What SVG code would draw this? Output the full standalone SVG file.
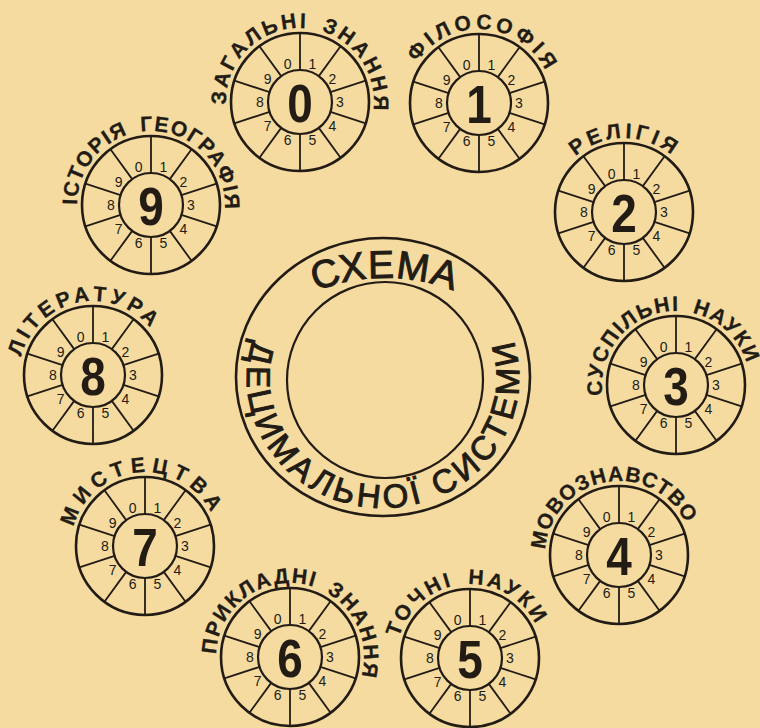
<svg xmlns="http://www.w3.org/2000/svg" width="760" height="728" viewBox="0 0 760 728">
<style>
.o{fill:none;stroke:#221c15;stroke-width:2.6}
.i{fill:none;stroke:#221c15;stroke-width:2.2}
.s{fill:none;stroke:#221c15;stroke-width:1.8}
.d{font-family:"Liberation Sans","DejaVu Sans",sans-serif;font-size:14px;fill:#221c15;text-anchor:middle;dominant-baseline:central}
.n{font-family:"Liberation Sans","DejaVu Sans",sans-serif;font-weight:bold;font-size:54px;fill:#221c15;text-anchor:middle;dominant-baseline:central;transform:scale(0.85,1)}
.l{font-family:"Liberation Sans","DejaVu Sans",sans-serif;font-weight:bold;font-size:21px;fill:#221c15;stroke:#221c15;stroke-width:0.3;word-spacing:5px}
.t{font-family:"Liberation Sans","DejaVu Sans",sans-serif;fill:#221c15;stroke:#221c15;stroke-width:1}
</style>
<defs>
<g id="wheel">
<circle r="69" class="o"/>
<circle r="32" class="i"/>
<path class="s" d="M0 -32V-69M18.81 -25.89L40.56 -55.82M30.43 -9.89L65.62 -21.32M30.43 9.89L65.62 21.32M18.81 25.89L40.56 55.82M0 32V69M-18.81 25.89L-40.56 55.82M-30.43 9.89L-65.62 21.32M-30.43 -9.89L-65.62 -21.32M-18.81 -25.89L-40.56 -55.82"/>
</g>
<path id="p0" d="M-73.95 2.58A74 74 0 1 1 73.59 7.74"/>
<path id="p1" d="M-62.06 -40.30A74 74 0 0 1 66.51 -32.44"/>
<path id="p2" d="M-48.55 -55.85A74 74 0 0 1 47.57 -56.69"/>
<path id="p3" d="M-73.28 10.30A74 74 0 0 1 70.38 -22.87"/>
<path id="p4" d="M-73.82 -5.16A74 74 0 0 1 66.51 -32.44"/>
<path id="p5" d="M-71.13 -20.40A74 74 0 0 1 65.34 -34.74"/>
<path id="p6" d="M-73.95 -2.58A74 74 0 1 1 71.48 19.15"/>
<path id="p7" d="M-71.48 -19.15A74 74 0 0 1 65.93 -33.60"/>
<path id="p8" d="M-71.80 -17.90A74 74 0 0 1 56.69 -47.57"/>
<path id="p9" d="M-74 0A74 74 0 1 1 73.90 3.87"/>
<path id="ptop" d="M295 300.7A190 190 0 0 1 475 300.7"/>
<path id="pbot" d="M252.94 339.99A136 130 0 1 0 513.73 342.17"/>
</defs>
<rect width="760" height="728" fill="#f5dba0"/>

<g id="center">
<ellipse cx="383" cy="377" rx="147" ry="139" class="o"/>
<circle cx="385" cy="380" r="98" class="i"/>
<text class="t" font-size="39"><textPath href="#ptop" startOffset="50%" text-anchor="middle" letter-spacing="1">СХЕМА</textPath></text>
<text class="t" font-size="33"><textPath href="#pbot" textLength="494" lengthAdjust="spacing">ДЕЦИМАЛЬНОЇ СИСТЕМИ</textPath></text>
</g>

<g id="dial-0" transform="translate(300,102)">
<use href="#wheel"/>
<text class="d" x="-12.4" y="-38">0</text><text class="d" x="12.4" y="-38">1</text><text class="d" x="32.4" y="-23.5">2</text><text class="d" x="40" y="0">3</text><text class="d" x="32.4" y="23.5">4</text><text class="d" x="12.4" y="38">5</text><text class="d" x="-12.4" y="38">6</text><text class="d" x="-32.4" y="23.5">7</text><text class="d" x="-40" y="0">8</text><text class="d" x="-32.4" y="-23.5">9</text>
<text class="n" y="2">0</text>
<text class="l" word-spacing="14"><textPath href="#p0" textLength="243" lengthAdjust="spacing">ЗАГАЛЬНІ ЗНАННЯ</textPath></text>
</g>

<g id="dial-1" transform="translate(479,103)">
<use href="#wheel"/>
<text class="d" x="-12.4" y="-38">0</text><text class="d" x="12.4" y="-38">1</text><text class="d" x="32.4" y="-23.5">2</text><text class="d" x="40" y="0">3</text><text class="d" x="32.4" y="23.5">4</text><text class="d" x="12.4" y="38">5</text><text class="d" x="-12.4" y="38">6</text><text class="d" x="-32.4" y="23.5">7</text><text class="d" x="-40" y="0">8</text><text class="d" x="-32.4" y="-23.5">9</text>
<text class="n" y="2">1</text>
<text class="l"><textPath href="#p1" textLength="156" lengthAdjust="spacing">ФІЛОСОФІЯ</textPath></text>
</g>

<g id="dial-2" transform="translate(624,212)">
<use href="#wheel"/>
<text class="d" x="-12.4" y="-38">0</text><text class="d" x="12.4" y="-38">1</text><text class="d" x="32.4" y="-23.5">2</text><text class="d" x="40" y="0">3</text><text class="d" x="32.4" y="23.5">4</text><text class="d" x="12.4" y="38">5</text><text class="d" x="-12.4" y="38">6</text><text class="d" x="-32.4" y="23.5">7</text><text class="d" x="-40" y="0">8</text><text class="d" x="-32.4" y="-23.5">9</text>
<text class="n" y="2">2</text>
<text class="l"><textPath href="#p2" textLength="104" lengthAdjust="spacing">РЕЛІГІЯ</textPath></text>
</g>

<g id="dial-3" transform="translate(676,385)">
<use href="#wheel"/>
<text class="d" x="-12.4" y="-38">0</text><text class="d" x="12.4" y="-38">1</text><text class="d" x="32.4" y="-23.5">2</text><text class="d" x="40" y="0">3</text><text class="d" x="32.4" y="23.5">4</text><text class="d" x="12.4" y="38">5</text><text class="d" x="-12.4" y="38">6</text><text class="d" x="-32.4" y="23.5">7</text><text class="d" x="-40" y="0">8</text><text class="d" x="-32.4" y="-23.5">9</text>
<text class="n" y="2">3</text>
<text class="l"><textPath href="#p3" textLength="220" lengthAdjust="spacing">СУСПІЛЬНІ НАУКИ</textPath></text>
</g>

<g id="dial-4" transform="translate(619,555)">
<use href="#wheel"/>
<text class="d" x="-12.4" y="-38">0</text><text class="d" x="12.4" y="-38">1</text><text class="d" x="32.4" y="-23.5">2</text><text class="d" x="40" y="0">3</text><text class="d" x="32.4" y="23.5">4</text><text class="d" x="12.4" y="38">5</text><text class="d" x="-12.4" y="38">6</text><text class="d" x="-32.4" y="23.5">7</text><text class="d" x="-40" y="0">8</text><text class="d" x="-32.4" y="-23.5">9</text>
<text class="n" y="2">4</text>
<text class="l" font-size="17"><textPath href="#p4" textLength="194" lengthAdjust="spacing">МОВОЗНАВСТВО</textPath></text>
</g>

<g id="dial-5" transform="translate(470,658)">
<use href="#wheel"/>
<text class="d" x="-12.4" y="-38">0</text><text class="d" x="12.4" y="-38">1</text><text class="d" x="32.4" y="-23.5">2</text><text class="d" x="40" y="0">3</text><text class="d" x="32.4" y="23.5">4</text><text class="d" x="12.4" y="38">5</text><text class="d" x="-12.4" y="38">6</text><text class="d" x="-32.4" y="23.5">7</text><text class="d" x="-40" y="0">8</text><text class="d" x="-32.4" y="-23.5">9</text>
<text class="n" y="2">5</text>
<text class="l" word-spacing="10"><textPath href="#p5" textLength="176" lengthAdjust="spacing">ТОЧНІ НАУКИ</textPath></text>
</g>

<g id="dial-6" transform="translate(290,657)">
<use href="#wheel"/>
<text class="d" x="-12.4" y="-38">0</text><text class="d" x="12.4" y="-38">1</text><text class="d" x="32.4" y="-23.5">2</text><text class="d" x="40" y="0">3</text><text class="d" x="32.4" y="23.5">4</text><text class="d" x="12.4" y="38">5</text><text class="d" x="-12.4" y="38">6</text><text class="d" x="-32.4" y="23.5">7</text><text class="d" x="-40" y="0">8</text><text class="d" x="-32.4" y="-23.5">9</text>
<text class="n" y="2">6</text>
<text class="l"><textPath href="#p6" textLength="249" lengthAdjust="spacing">ПРИКЛАДНІ ЗНАННЯ</textPath></text>
</g>

<g id="dial-7" transform="translate(145,546)">
<use href="#wheel"/>
<text class="d" x="-12.4" y="-38">0</text><text class="d" x="12.4" y="-38">1</text><text class="d" x="32.4" y="-23.5">2</text><text class="d" x="40" y="0">3</text><text class="d" x="32.4" y="23.5">4</text><text class="d" x="12.4" y="38">5</text><text class="d" x="-12.4" y="38">6</text><text class="d" x="-32.4" y="23.5">7</text><text class="d" x="-40" y="0">8</text><text class="d" x="-32.4" y="-23.5">9</text>
<text class="n" y="2">7</text>
<text class="l" font-size="25" stroke-width="0.8"><textPath href="#p7" textLength="178" lengthAdjust="spacing">МИСТЕЦТВА</textPath></text>
</g>

<g id="dial-8" transform="translate(93,375)">
<use href="#wheel"/>
<text class="d" x="-12.4" y="-38">0</text><text class="d" x="12.4" y="-38">1</text><text class="d" x="32.4" y="-23.5">2</text><text class="d" x="40" y="0">3</text><text class="d" x="32.4" y="23.5">4</text><text class="d" x="12.4" y="38">5</text><text class="d" x="-12.4" y="38">6</text><text class="d" x="-32.4" y="23.5">7</text><text class="d" x="-40" y="0">8</text><text class="d" x="-32.4" y="-23.5">9</text>
<text class="n" y="2">8</text>
<text class="l" font-size="22"><textPath href="#p8" textLength="163" lengthAdjust="spacing">ЛІТЕРАТУРА</textPath></text>
</g>

<g id="dial-9" transform="translate(151,205)">
<use href="#wheel"/>
<text class="d" x="-12.4" y="-38">0</text><text class="d" x="12.4" y="-38">1</text><text class="d" x="32.4" y="-23.5">2</text><text class="d" x="40" y="0">3</text><text class="d" x="32.4" y="23.5">4</text><text class="d" x="12.4" y="38">5</text><text class="d" x="-12.4" y="38">6</text><text class="d" x="-32.4" y="23.5">7</text><text class="d" x="-40" y="0">8</text><text class="d" x="-32.4" y="-23.5">9</text>
<text class="n" y="2">9</text>
<text class="l" font-size="20"><textPath href="#p9" textLength="236" lengthAdjust="spacing">ІСТОРІЯ ГЕОГРАФІЯ</textPath></text>
</g>
</svg>
